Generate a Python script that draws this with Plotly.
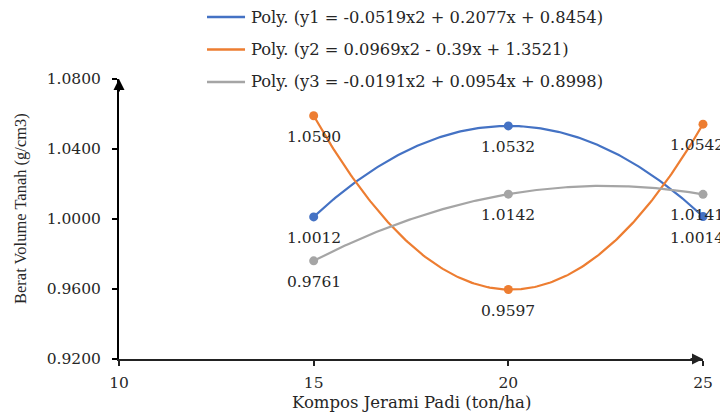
import numpy as np
import plotly.graph_objects as go

# ---- data ----
kompos = [15, 20, 25]
y1_vals = [1.0012, 1.0532, 1.0014]
y2_vals = [1.0590, 0.9597, 1.0542]
y3_vals = [0.9761, 1.0142, 1.0141]

# polynomial trendline coefficients (x = point index 1..3), as shown in legend
y1_coef = [-0.0519, 0.2077, 0.8454]
y2_coef = [0.0969, -0.39, 1.3521]
y3_coef = [-0.0191, 0.0954, 0.8998]

trend_names = [
    "Poly. (y1 = -0.0519x2 + 0.2077x + 0.8454)",
    "Poly. (y2 = 0.0969x2 - 0.39x + 1.3521)",
    "Poly. (y3 = -0.0191x2 + 0.0954x + 0.8998)",
]

x_ticks = [10, 15, 20, 25]
y_ticks = [0.92, 0.96, 1.00, 1.04, 1.08]

x_title = "Kompos Jerami Padi (ton/ha)"
y_title = "Berat Volume Tanah (g/cm3)"

colors = ["#4472C4", "#ED7D31", "#A5A5A5"]
WIDE = "DejaVu Serif, serif"
NARROW = "Liberation Serif, Times New Roman, serif"
TXT = "#262626"

fig = go.Figure()

series = [y1_vals, y2_vals, y3_vals]
coefs = [y1_coef, y2_coef, y3_coef]

# trendlines
xs = np.linspace(kompos[0], kompos[-1], 200)
idx = 1 + (xs - kompos[0]) / (kompos[1] - kompos[0])
for i, (c, name, col) in enumerate(zip(coefs, trend_names, colors)):
    fig.add_trace(go.Scatter(
        x=xs, y=np.polyval(c, idx), mode="lines", name=name,
        line=dict(color=col, width=2.2), hoverinfo="skip", showlegend=False,
    ))

# data points
for i, (vals, col) in enumerate(zip(series, colors)):
    fig.add_trace(go.Scatter(
        x=kompos, y=vals, mode="markers",
        marker=dict(color=col, size=9),
        showlegend=False, cliponaxis=False,
    ))
    for xv, yv in zip(kompos, vals):
        fig.add_annotation(x=xv, y=yv, xref="x", yref="y", text=f"{yv:.4f}",
                           showarrow=False, yshift=-21,
                           xshift=(-6 if xv == kompos[-1] else 0),
                           font=dict(family=WIDE, size=15.5, color=TXT))

# manual legend (top, stacked)
leg_rows = [1.2214, 1.1054, 0.9893]
for name, col, ly in zip(trend_names, colors, leg_rows):
    fig.add_shape(type="line", xref="paper", yref="paper",
                  x0=0.1507, x1=0.2158, y0=ly, y1=ly,
                  line=dict(color=col, width=2.5))
    fig.add_annotation(x=0.2226, y=ly, xref="paper", yref="paper", text=name,
                       showarrow=False, xanchor="left", yanchor="middle",
                       font=dict(family=WIDE, size=16.3, color=TXT))

# axis titles
fig.add_annotation(x=0.5, y=-0.1536, xref="paper", yref="paper", text=x_title,
                   showarrow=False, xanchor="center", yanchor="middle",
                   font=dict(family=WIDE, size=16.5, color=TXT))
fig.add_annotation(x=-0.1695, y=0.5357, xref="paper", yref="paper", text=y_title,
                   showarrow=False, textangle=-90, xanchor="center", yanchor="middle",
                   font=dict(family=NARROW, size=16.5, color=TXT))

# axis arrows
fig.add_annotation(x=x_ticks[0], y=y_ticks[-1], xref="x", yref="y",
                   ax=0, ay=14, showarrow=True, arrowhead=2, arrowsize=1.1,
                   arrowwidth=2, arrowcolor="black", text="", standoff=0)
fig.add_annotation(x=x_ticks[-1], y=y_ticks[0], xref="x", yref="y",
                   ax=-14, ay=0, showarrow=True, arrowhead=2, arrowsize=1.1,
                   arrowwidth=2, arrowcolor="#222222", text="", standoff=0)

# page has an 8px body margin, so the figure is sized to fill the remaining window
fig.update_layout(
    width=720, height=404,
    margin=dict(l=111, r=25, t=71, b=53, autoexpand=False),
    paper_bgcolor="white", plot_bgcolor="white",
    font=dict(family=WIDE, size=15.5, color=TXT),
    showlegend=False,
    xaxis=dict(
        range=[x_ticks[0], x_ticks[-1]], tickvals=x_ticks, automargin=False,
        showgrid=False, zeroline=False, showline=True, linecolor="#222222", linewidth=2,
        ticks="outside", ticklen=5, tickcolor="#222222", tickwidth=1.5,
        ticklabelstandoff=3,
        tickfont=dict(family=WIDE, size=15.5, color=TXT),
    ),
    yaxis=dict(
        range=[y_ticks[0], y_ticks[-1]], tickvals=y_ticks, tickformat=".4f",
        automargin=False,
        showgrid=False, zeroline=False, showline=True, linecolor="black", linewidth=2,
        ticks="outside", ticklen=5, tickcolor="black", tickwidth=1.5,
        ticklabelstandoff=8,
        tickfont=dict(family=WIDE, size=15.5, color=TXT),
    ),
)

fig.write_html("out.html")
